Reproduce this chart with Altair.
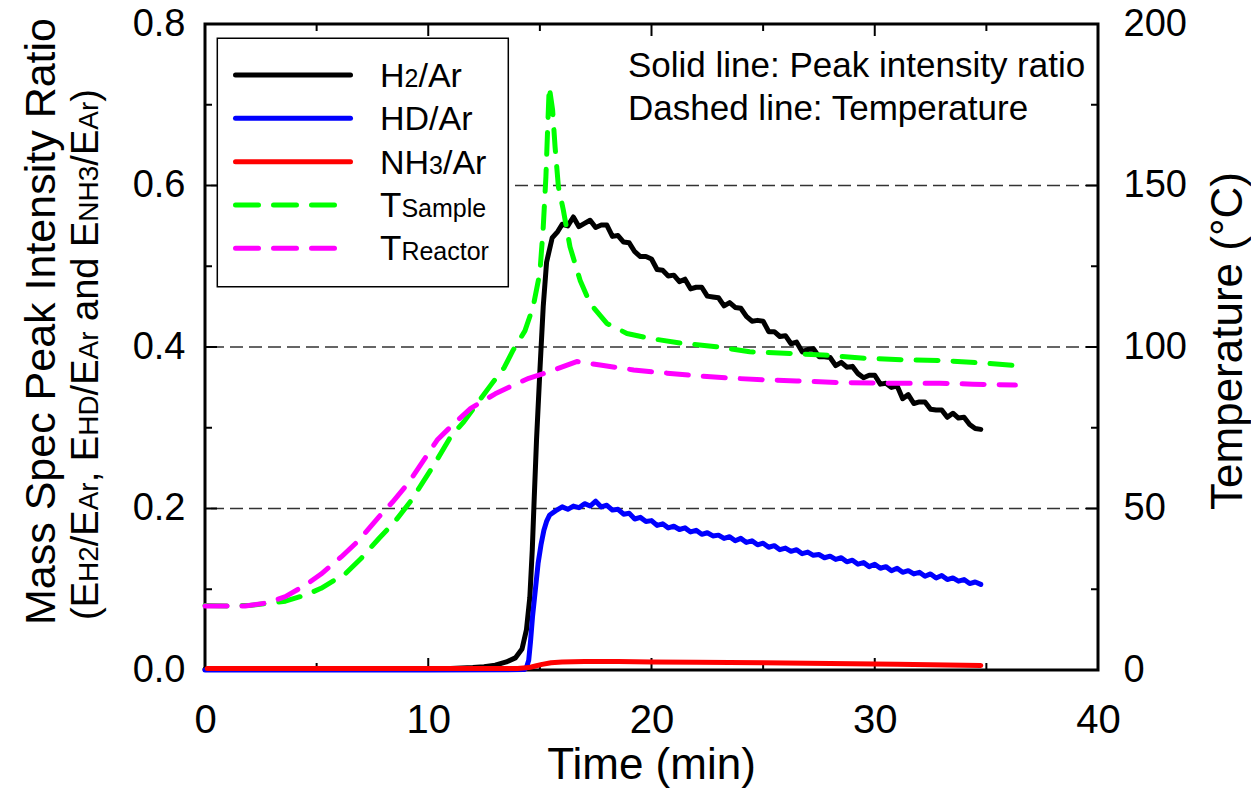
import altair as alt
import pandas as pd

FONT = "Liberation Sans, Arial, Helvetica, sans-serif"

# ---------------- data ----------------
time_h2_head = [0, 2, 4, 6, 8, 10, 11, 12, 12.5, 13, 13.5, 13.9, 14.2, 14.4, 14.55, 14.66,
                14.75, 14.85, 15.0, 15.15, 15.3, 15.55, 15.8]
h2_head = [0.001, 0.001, 0.001, 0.001, 0.001, 0.0015, 0.002, 0.003, 0.004, 0.006, 0.010, 0.015,
           0.026, 0.050, 0.090, 0.149, 0.215, 0.285, 0.370, 0.450, 0.505, 0.535, 0.543]

time_tail = [16.0, 16.25, 16.5, 16.75, 17.0, 17.25, 17.5, 17.75, 18.0, 18.25, 18.5, 18.75,
             19.0, 19.25, 19.5, 19.75, 20.0, 20.25, 20.5, 20.75, 21.0, 21.25, 21.5, 21.75,
             22.0, 22.25, 22.5, 22.75, 23.0, 23.25, 23.5, 23.75, 24.0, 24.25, 24.5, 24.75,
             25.0, 25.25, 25.5, 25.75, 26.0, 26.25, 26.5, 26.75, 27.0, 27.25, 27.5, 27.75,
             28.0, 28.25, 28.5, 28.75, 29.0, 29.25, 29.5, 29.75, 30.0, 30.25, 30.5, 30.75,
             31.0, 31.25, 31.5, 31.75, 32.0, 32.25, 32.5, 32.75, 33.0, 33.25, 33.5, 33.75,
             34.0, 34.25, 34.5, 34.75]

h2_tail = [0.552, 0.550, 0.561, 0.549, 0.553, 0.557, 0.548, 0.551,
           0.551, 0.537, 0.538, 0.530, 0.529, 0.518, 0.512, 0.512,
           0.509, 0.496, 0.495, 0.488, 0.489, 0.481, 0.484, 0.472,
           0.474, 0.474, 0.463, 0.462, 0.461, 0.451, 0.455, 0.449,
           0.448, 0.438, 0.432, 0.433, 0.432, 0.419, 0.419, 0.413,
           0.414, 0.404, 0.406, 0.394, 0.397, 0.398, 0.388, 0.388,
           0.387, 0.377, 0.381, 0.375, 0.376, 0.367, 0.362, 0.365,
           0.365, 0.354, 0.355, 0.350, 0.352, 0.336, 0.341, 0.330,
           0.332, 0.332, 0.323, 0.322, 0.322, 0.313, 0.318, 0.312,
           0.313, 0.304, 0.299, 0.298]

time_hd_head = [0, 5, 10, 14.3, 14.4, 14.5, 14.58, 14.67, 14.8, 14.92, 15.05, 15.18, 15.3,
                15.44, 15.7]
hd_head = [0.0, 0.0, 0.0, 0.0005, 0.003, 0.012, 0.035, 0.066, 0.100, 0.132, 0.155, 0.173,
           0.184, 0.192, 0.197]
hd_tail = [0.202, 0.199, 0.203, 0.201, 0.206, 0.203, 0.209, 0.202,
           0.204, 0.198, 0.199, 0.193, 0.194, 0.187, 0.189, 0.184,
           0.185, 0.179, 0.181, 0.176, 0.178, 0.174, 0.176, 0.171,
           0.173, 0.168, 0.170, 0.166, 0.167, 0.163, 0.165, 0.160,
           0.163, 0.158, 0.160, 0.155, 0.157, 0.152, 0.154, 0.149,
           0.151, 0.147, 0.149, 0.144, 0.146, 0.142, 0.143, 0.139,
           0.141, 0.137, 0.139, 0.134, 0.136, 0.131, 0.133, 0.128,
           0.131, 0.126, 0.128, 0.123, 0.126, 0.121, 0.123, 0.119,
           0.121, 0.116, 0.119, 0.114, 0.117, 0.112, 0.114, 0.110,
           0.112, 0.107, 0.109, 0.106]

time_nh3 = [0.1, 5, 10, 14, 14.5, 14.8, 15.1, 15.5, 16.0, 17.0, 18.5, 20, 22, 25, 28, 31, 34.75]
nh3 = [0.002, 0.002, 0.002, 0.002, 0.003, 0.005, 0.007, 0.009, 0.010, 0.0105, 0.0105, 0.010,
       0.0095, 0.009, 0.008, 0.007, 0.0055]

time_ts = [0, 1, 2, 3, 3.6, 4.5, 5.2, 6.3, 7.0, 7.8, 8.5, 9.25, 10.3, 11.0, 11.6, 12.2, 12.8,
           13.4, 13.8, 14.33, 14.7, 15.0, 15.15, 15.27, 15.35, 15.42, 15.57, 15.68, 15.83,
           16.05, 16.35, 16.8, 17.25, 18.0, 18.9, 19.9, 21.4, 22.9, 24.4, 26.2, 27.7, 29.6,
           31.4, 33.1, 34.7, 36.65]
t_sample = [20, 19.8, 20, 20.8, 21.3, 23.2, 25.3, 29.9, 34.6, 40.8, 45.9, 52.6, 64, 72.2, 76.9,
            82.6, 88.2, 93.6, 99, 105, 112.5, 123, 137, 152.7, 168, 180.6, 173.4, 162, 149.6,
            142.4, 131, 120.7, 113.5, 107.3, 104.2, 102.7, 101.1, 100.1, 98.5, 98, 97.5, 96.5,
            96, 95.8, 95.1, 94.1]

time_tr = [0, 1.8, 2.8, 3.6, 4.5, 5.2, 6.1, 6.9, 7.8, 8.4, 9.1, 9.7, 10.4, 11.0, 11.9, 13.0,
           13.9, 14.5, 15.45, 16.65, 17.7, 19.2, 20.7, 22.2, 23.7, 25.2, 26.5, 28.4, 30.7,
           32.9, 34.4, 36.3]
t_reactor = [19.8, 19.8, 20.8, 22.7, 26.3, 29.7, 35, 40.2, 47.5, 52, 57.8, 64, 71.2, 75.3, 81,
             85.5, 88.5, 90.3, 92.4, 95.5, 94.4, 92.9, 91.9, 91, 90.3, 89.8, 89.5, 89, 88.8,
             88.8, 88.5, 88.2]

# tick values / labels
x_labels = [0, 10, 20, 30, 40]
x_major = [10, 20, 30]
x_minor = [5, 15, 25, 35]
y_labels = [0.0, 0.2, 0.4, 0.6, 0.8]
y_major = [0.2, 0.4, 0.6]
y_minor = [0.1, 0.3, 0.5, 0.7]
grid_vals = [0.2, 0.4, 0.6]
t_labels = [0, 50, 100, 150, 200]
t_major = [50, 100, 150]
t_minor = [25, 75, 125, 175]

# ---------------- layout ----------------
W, H = 893, 646
LW = 5

xs = alt.Scale(domain=[0, 40], nice=False, zero=False)
ys = alt.Scale(domain=[0, 0.8], nice=False)
tsc = alt.Scale(domain=[0, 200], nice=False)

common = dict(labelFont=FONT, labelColor="black", ticks=False, tickSize=0, domain=False,
              grid=False, title="", labelOverlap=False)
x_axis = alt.Axis(values=x_labels, format="d", labelFontSize=40, labelPadding=30,
                  labelFlush=False, **common)
y_axis = alt.Axis(values=y_labels, format=".1f", labelFontSize=38, labelPadding=20,
                  orient="left", **common)
t_axis = alt.Axis(values=t_labels, format="d", labelFontSize=38, labelPadding=25,
                  orient="right", **common)


def line(t, v, color, scale, axis, dash=None, width=LW):
    df = pd.DataFrame({"t": t, "v": v})
    kw = dict(color=color, strokeWidth=width, strokeJoin="round", strokeCap="round")
    if dash:
        kw["strokeDash"] = dash
    return alt.Chart(df).mark_line(**kw).encode(
        x=alt.X("t:Q", scale=xs, axis=x_axis),
        y=alt.Y("v:Q", scale=scale, axis=axis),
    )


def xticks(vals, length, top):
    df = pd.DataFrame({"t": vals})
    if top:
        yy = dict(y=alt.value(0), y2=alt.value(length))
    else:
        yy = dict(y=alt.value(H), y2=alt.value(H - length))
    return alt.Chart(df).mark_rule(color="black", strokeWidth=2).encode(
        x=alt.X("t:Q", scale=xs, axis=x_axis), **yy)


def yticks(vals, length, scale, axis, right):
    df = pd.DataFrame({"v": vals})
    if right:
        xx = dict(x=alt.value(W), x2=alt.value(W - length))
    else:
        xx = dict(x=alt.value(0), x2=alt.value(length))
    return alt.Chart(df).mark_rule(color="black", strokeWidth=2).encode(
        y=alt.Y("v:Q", scale=scale, axis=axis), **xx)


grid = alt.Chart(pd.DataFrame({"v": grid_vals})).mark_rule(
    color="#333333", strokeWidth=1.5, strokeDash=[13, 6]
).encode(y=alt.Y("v:Q", scale=ys, axis=y_axis))

h2_line = line(time_h2_head + time_tail, h2_head + h2_tail, "black", ys, y_axis)
hd_line = line(time_hd_head + time_tail, hd_head + hd_tail, "#0000ff", ys, y_axis)
nh3_line = line(time_nh3, nh3, "#ff0000", ys, y_axis)

left = alt.layer(
    grid,
    xticks(x_major, 12, False), xticks(x_minor, 7, False),
    xticks(x_major, 12, True), xticks(x_minor, 7, True),
    yticks(y_major, 12, ys, y_axis, False), yticks(y_minor, 7, ys, y_axis, False),
    h2_line, hd_line, nh3_line,
)

ts_line = line(time_ts, t_sample, "#00ff00", tsc, t_axis, dash=[22, 15])
tr_line = line(time_tr, t_reactor, "#ff00ff", tsc, t_axis, dash=[22, 15])

right = alt.layer(
    yticks(t_major, 12, tsc, t_axis, True), yticks(t_minor, 7, tsc, t_axis, True),
    ts_line, tr_line,
)

# ---------------- text / legend overlay ----------------
CW = {"H": 722, "2": 556, "/": 278, "A": 667, "r": 333, "D": 722, "N": 722, "3": 556,
      "T": 611, "S": 667, "a": 556, "m": 833, "p": 556, "l": 222, "e": 556, "R": 722,
      "c": 500, "t": 278, "o": 556, "(": 333, "E": 667, ",": 278, " ": 278, "n": 556,
      "d": 556, ")": 333}


def tw(s, size):
    return sum(CW.get(c, 556) for c in s) / 1000.0 * size


dummy = pd.DataFrame({"d": [0]})


def label(s, x, y, size, angle=None, align="left"):
    kw = dict(text=s, font=FONT, fontSize=size, color="black", align=align,
              baseline="alphabetic")
    if angle is not None:
        kw["angle"] = angle
    return alt.Chart(dummy).mark_text(**kw).encode(x=alt.value(x), y=alt.value(y))


overlay_layers = []

# legend box
overlay_layers.append(
    alt.Chart(dummy).mark_rect(fill="white", stroke="black", strokeWidth=1.5).encode(
        x=alt.value(12.3), x2=alt.value(303.3), y=alt.value(14.3), y2=alt.value(262.7))
)

legend_names = [
    [("H", 34), ("2", 25), ("/Ar", 34)],
    [("HD/Ar", 34)],
    [("NH", 34), ("3", 25), ("/Ar", 34)],
    [("T", 35), ("Sample", 25)],
    [("T", 35), ("Reactor", 25)],
]
legend_colors = ["black", "#0000ff", "#ff0000", "#00ff00", "#ff00ff"]
legend_dashed = [False, False, False, True, True]
row_y = [51, 94.3, 137.7, 181, 224.3]

for names, col, dashed, yr in zip(legend_names, legend_colors, legend_dashed, row_y):
    if dashed:
        overlay_layers.append(
            alt.Chart(dummy).mark_rule(color=col, strokeWidth=LW, strokeCap="round",
                                       strokeDash=[23, 15]).encode(
                x=alt.value(30.5), x2=alt.value(129.5), y=alt.value(yr)))
    else:
        overlay_layers.append(
            alt.Chart(dummy).mark_rule(color=col, strokeWidth=LW, strokeCap="round").encode(
                x=alt.value(30.5), x2=alt.value(145.5), y=alt.value(yr)))
    xx = 175.0
    for s, sz in names:
        overlay_layers.append(label(s, xx, yr + 12, sz))
        xx += tw(s, sz)

# annotation
overlay_layers.append(label("Solid line: Peak intensity ratio", 423, 52.7, 35))
overlay_layers.append(label("Dashed line: Temperature", 423, 96, 35))

# left title, line 1
overlay_layers.append(label("Mass Spec Peak Intensity Ratio", -150, 297.5, 43, angle=270,
                            align="center"))
# left title, line 2 with subscripts (no leading/trailing spaces: advance explicitly)
line2 = [("(E", 38, 0), ("H2", 28, 0), ("/E", 38, 0), ("Ar", 28, 0), (", E", 38, 0),
         ("HD", 28, 0), ("/E", 38, 0), ("Ar", 28, 0), ("and E", 38, 1), ("NH3", 28, 0),
         ("/E", 38, 0), ("Ar", 28, 0), (")", 38, 0)]
yy = 596.0
for s, sz, lead in line2:
    yy -= lead * tw(" ", sz)
    overlay_layers.append(label(s, -107, yy, sz, angle=270))
    yy -= tw(s, sz)

# x title and right title
overlay_layers.append(label("Time (min)", W / 2, 755, 44, align="center"))
overlay_layers.append(label("Temperature (°C)", 1037, 317, 44, angle=270, align="center"))

overlay = alt.layer(*overlay_layers)

chart = alt.layer(left, right, overlay).resolve_scale(y="independent").properties(
    width=W, height=H,
    autosize=alt.AutoSizeParams(type="none"),
    padding={"left": 197, "top": 16, "right": 153, "bottom": 119},
    background="white",
).configure_view(stroke="black", strokeWidth=3)

chart.save("out.html", embed_options={"renderer": "svg", "actions": False})
